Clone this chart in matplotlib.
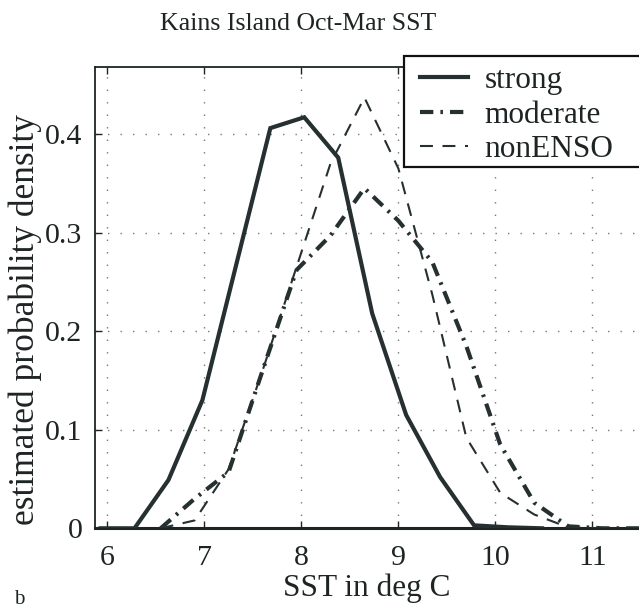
import matplotlib
matplotlib.use("Agg")
import matplotlib.pyplot as plt
from matplotlib.patches import Rectangle

# Kernel density estimates of Kains Island Oct-Mar SST by ENSO category
strong_x = [5.93, 6.28, 6.63, 6.98, 7.33, 7.68, 8.03, 8.38, 8.73, 9.08, 9.43, 9.78, 10.13, 10.48]
strong_y = [0.0, 0.0, 0.049, 0.130, 0.268, 0.406, 0.417, 0.376, 0.218, 0.115, 0.052, 0.003, 0.001, 0.0]

moderate_x = [6.55, 6.90, 7.25, 7.60, 7.95, 8.30, 8.65, 9.00, 9.35, 9.70, 10.05, 10.40, 10.75, 11.10, 11.48]
moderate_y = [0.0, 0.030, 0.057, 0.160, 0.262, 0.297, 0.345, 0.312, 0.270, 0.185, 0.085, 0.026, 0.002, 0.0, 0.0]

nonenso_x = [6.55, 6.90, 7.25, 7.60, 7.95, 8.30, 8.65, 9.00, 9.35, 9.70, 10.05, 10.40, 10.75, 11.10]
nonenso_y = [0.0, 0.008, 0.060, 0.160, 0.265, 0.370, 0.437, 0.365, 0.237, 0.092, 0.036, 0.014, 0.001, 0.0]

labels = ["strong", "moderate", "nonENSO"]
xticks = [6, 7, 8, 9, 10, 11]
yticks = [0, 0.1, 0.2, 0.3, 0.4]
ytick_labels = ["0", "0.1", "0.2", "0.3", "0.4"]

plt.rcParams["font.family"] = ["Liberation Serif", "DejaVu Serif"]
INK = "#1e2424"
LINE = "#263030"

W, H = 639, 610
fig = plt.figure(figsize=(W / 100, H / 100), dpi=100)
ax = fig.add_axes([95 / W, (H - 528.3) / H, (W - 95) / W, (528.3 - 67) / H])

ax.plot(strong_x, strong_y, color=LINE, lw=3.0, solid_joinstyle="miter",
        label=labels[0], zorder=3)
ax.plot(moderate_x, moderate_y, color=LINE, lw=3.0,
        dashes=(3.2, 1.7, 0.6, 1.7), dash_capstyle="butt",
        label=labels[1], zorder=3)
ax.plot(nonenso_x, nonenso_y, color=LINE, lw=1.5,
        dashes=(6.2, 4.6), dash_capstyle="butt",
        label=labels[2], zorder=3)

ax.set_xlim(5.873, 11.48)
ax.set_ylim(0, 0.468)
ax.set_xticks(xticks)
ax.set_yticks(yticks)
ax.set_yticklabels(ytick_labels)

ax.grid(True, color="#777777", lw=1.0, linestyle=(0, (1, 8)))
ax.tick_params(direction="in", length=5, width=1.0, color=INK,
               labelsize=21.5, labelcolor=INK, top=True)
ax.tick_params(axis="x", pad=12)
ax.tick_params(axis="y", pad=9)
for side in ("left", "top", "bottom"):
    ax.spines[side].set_color(INK)
    ax.spines[side].set_linewidth(1.3)
ax.spines["bottom"].set_linewidth(2.2)
ax.spines["right"].set_visible(False)

ax.set_xlabel("SST in deg C", fontsize=22.5, color=INK, labelpad=2)
ax.set_ylabel("estimated probability density", fontsize=25.5, color=INK)
ax.yaxis.set_label_coords(-53 / (W - 95), 0.452)

fig.text(298 / W, 1 - 24 / H, "Kains Island Oct-Mar SST", fontsize=18.6,
         color=INK, ha="center", va="center")
fig.text(14 / W, 1 - 599 / H, "b", fontsize=15, color=INK, ha="left", va="center")

# legend entries without frame; the box is drawn separately so it runs off the right edge
leg = ax.legend(loc="upper left", bbox_to_anchor=(420 / W, 1 - 66 / H),
                bbox_transform=fig.transFigure, borderaxespad=0, borderpad=0,
                fontsize=22.5, handlelength=1.54, handletextpad=0.52,
                labelspacing=0.18, frameon=False)
leg.set_zorder(6)
for t in leg.get_texts():
    t.set_color(INK)
box = Rectangle((404 / W, 1 - 167 / H), (W + 20 - 404) / W, (167 - 56) / H,
                transform=fig.transFigure, facecolor="white",
                edgecolor="#111111", lw=1.6, zorder=5, clip_on=False)
ax.add_artist(box)

fig.savefig("out.png", dpi=100)
